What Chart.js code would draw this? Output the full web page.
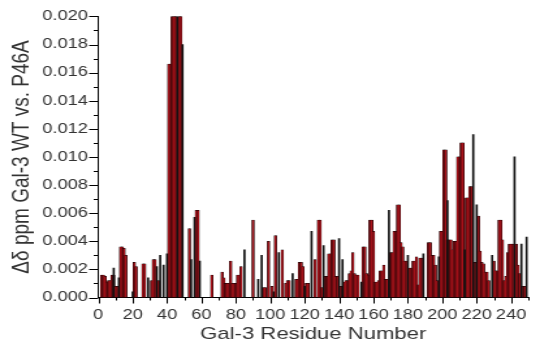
<!DOCTYPE html>
<html>
<head>
<meta charset="utf-8">
<script src="https://cdn.jsdelivr.net/npm/chart.js@4"></script>
<style>
  body { margin: 0; background: #fff; }
</style>
</head>
<body>
<!-- the reference is stretched sideways, so the canvas is drawn narrower and scaled to 540 -->
<canvas id="chart" width="415" height="355" style="width:540px;height:355px"></canvas>
<script>
// chemical shift change per residue (red bars), null = no data
const redShift = [
  null, 0.0016, 0.0016, 0.0015, 0.0011, 0.0012, 0.0012, 0.0016, 0.0016, 0.0008,
  0.0008, null, 0.0036, 0.0036, 0.0035, 0.0030, null, null, null, null,
  0.0025, 0.0022, null, null, null, 0.0024, 0.0024, null, null, null,
  0.0012, 0.0027, 0.0027, null, 0.0012, null, null, null, null, null,
  0.0166, 0.0166, 0.0200, 0.0200, 0.0200, null, 0.0200, 0.0200, null, null,
  null, null, 0.0049, null, null, null, 0.0062, 0.0062, null, null,
  null, null, null, null, null, 0.0016, null, null, null, null,
  null, 0.0018, 0.0014, 0.0010, 0.0010, 0.0010, 0.0026, 0.0010, 0.0010, 0.0010,
  0.0016, 0.0016, 0.0022, null, null, null, null, null, null, 0.0055,
  null, null, null, null, null, 0.0007, 0.0007, null, 0.0040, null,
  0.0008, null, 0.0044, null, null, null, 0.0034, null, 0.0010, 0.0012,
  0.0012, null, null, null, 0.0013, 0.0013, 0.0025, 0.0025, 0.0022, null,
  0.0010, 0.0010, null, null, null, 0.0027, null, 0.0055, 0.0055, 0.0007,
  null, 0.0015, 0.0015, 0.0031, 0.0031, 0.0041, 0.0041, 0.0015, 0.0015, null,
  0.0008, null, 0.0011, 0.0012, 0.0012, 0.0017, 0.0019, 0.0032, 0.0017, 0.0016,
  0.0016, null, null, 0.0036, 0.0036, 0.0017, 0.0016, 0.0055, 0.0055, 0.0047,
  0.0011, 0.0011, 0.0012, 0.0019, 0.0019, 0.0023, 0.0013, 0.0013, null, 0.0032,
  0.0032, 0.0047, 0.0047, 0.0066, 0.0066, 0.0039, 0.0036, 0.0026, 0.0026, null,
  0.0021, 0.0021, 0.0026, 0.0026, 0.0029, 0.0009, 0.0028, 0.0028, null, null,
  null, 0.0039, 0.0039, 0.0030, 0.0030, 0.0023, 0.0012, null, 0.0047, 0.0047,
  0.0105, 0.0105, 0.0041, 0.0041, 0.0041, 0.0034, 0.0040, 0.0040, 0.0100, 0.0100,
  0.0110, 0.0110, null, 0.0071, 0.0071, 0.0079, 0.0079, null, 0.0025, null,
  0.0058, 0.0033, 0.0025, 0.0024, 0.0018, 0.0018, 0.0012, null, null, 0.0026,
  0.0019, 0.0019, 0.0055, 0.0055, 0.0041, 0.0012, 0.0015, 0.0032, 0.0038, 0.0038,
  0.0038, null, 0.0038, 0.0023, 0.0017, null, 0.0008, 0.0008, null, null
];

// thin black bars
const blackResidue = [9, 12, 20, 29, 34, 36, 38, 40, 46, 49, 54, 56, 59, 85, 93, 95,
  102, 105, 113, 120, 124, 131, 140, 142, 153, 169, 180, 189, 198, 203, 213, 218,
  220, 229, 242, 246, 249];
const blackShift = [0.0021, 0.0014, 0.0004, 0.0014, 0.0022, 0.0030, 0.0023, 0.0031,
  0.0200, 0.0180, 0.0027, 0.0057, 0.0026, 0.0034, 0.0013, 0.0030,
  0.0004, 0.0032, 0.0017, 0.0008, 0.0047, 0.0037, 0.0042, 0.0027, 0.0011, 0.0062,
  0.0030, 0.0031, 0.0029, 0.0069, 0.0034, 0.0116,
  0.0066, 0.0030, 0.0100, 0.0038, 0.0043];

const xTicks = [0, 20, 40, 60, 80, 100, 120, 140, 160, 180, 200, 220, 240];
const yTicks = [0, 0.002, 0.004, 0.006, 0.008, 0.010, 0.012, 0.014, 0.016, 0.018, 0.020];

const xTitle = 'Gal-3 Residue Number';
const yTitle = 'Δδ ppm Gal-3 WT vs. P46A';

const textColor = '#333';
const fontFamily = '"Liberation Sans", Arial, sans-serif';

const redData = [];
redShift.forEach((v, i) => {
  if (v !== null) redData.push({ x: i + 1, y: v });
});
const blackData = blackResidue.map((r, i) => ({ x: r, y: blackShift[i] }));

// tick marks, long for labelled values and short in between
const tickMarks = {
  id: 'tickMarks',
  afterDraw(chart) {
    const ctx = chart.ctx;
    const xs = chart.scales.x;
    const ys = chart.scales.y;
    ctx.save();
    ctx.strokeStyle = '#000';
    ctx.lineWidth = 1;
    ctx.beginPath();
    for (let v = 0; v <= 250; v += 10) {
      const px = Math.round(xs.getPixelForValue(v)) + 0.5;
      const len = xTicks.includes(v) ? 6 : 3;
      ctx.moveTo(px, xs.top);
      ctx.lineTo(px, xs.top + len);
    }
    for (let i = 0; i < yTicks.length; i++) {
      let py = Math.round(ys.getPixelForValue(yTicks[i])) + 0.5;
      ctx.moveTo(ys.right, py);
      ctx.lineTo(ys.right - 7, py);
      if (i < yTicks.length - 1) {
        py = Math.round(ys.getPixelForValue((yTicks[i] + yTicks[i + 1]) / 2)) + 0.5;
        ctx.moveTo(ys.right, py);
        ctx.lineTo(ys.right - 3.5, py);
      }
    }
    ctx.stroke();
    ctx.restore();
  }
};

new Chart(document.getElementById('chart'), {
  type: 'bar',
  data: {
    datasets: [
      {
        label: 'black',
        data: blackData,
        backgroundColor: '#111',
        borderWidth: 0,
        barThickness: 1,
        order: 0
      },
      {
        label: 'red',
        data: redData,
        backgroundColor: '#a8121a',
        borderColor: '#000',
        borderWidth: 0.5,
        barThickness: 1.9,
        order: 1
      }
    ]
  },
  options: {
    responsive: false,
    devicePixelRatio: 1,
    animation: false,
    grouped: false,
    layout: { padding: { top: 16, right: 2, left: 0, bottom: 0 } },
    plugins: {
      legend: { display: false },
      tooltip: { enabled: false }
    },
    scales: {
      x: {
        type: 'linear',
        min: 0,
        max: 250,
        offset: false,
        grid: { display: false, drawTicks: false, offset: false },
        border: { display: true, color: '#000', width: 1 },
        ticks: {
          stepSize: 10,
          autoSkip: false,
          maxRotation: 0,
          padding: 9,
          color: textColor,
          font: { family: fontFamily, size: 14 },
          callback: v => xTicks.includes(v) ? String(v) : ''
        },
        title: {
          display: true,
          text: xTitle,
          color: textColor,
          font: { family: fontFamily, size: 17, lineHeight: 1.2 },
          padding: { top: 0, bottom: 10 }
        },
        afterFit: s => { s.height = 57.5; }
      },
      y: {
        min: 0,
        max: 0.02,
        grid: { display: false, drawTicks: false },
        border: { display: true, color: '#000', width: 1 },
        ticks: {
          stepSize: 0.002,
          padding: 8,
          color: textColor,
          font: { family: fontFamily, size: 14 },
          callback: v => v.toFixed(3)
        },
        title: {
          display: true,
          text: yTitle,
          color: textColor,
          font: { family: fontFamily, size: 19, lineHeight: 1.2 },
          padding: { top: 5, bottom: 0 }
        },
        afterFit: s => { s.width = 75.5; }
      }
    }
  },
  plugins: [tickMarks]
});
</script>
</body>
</html>
